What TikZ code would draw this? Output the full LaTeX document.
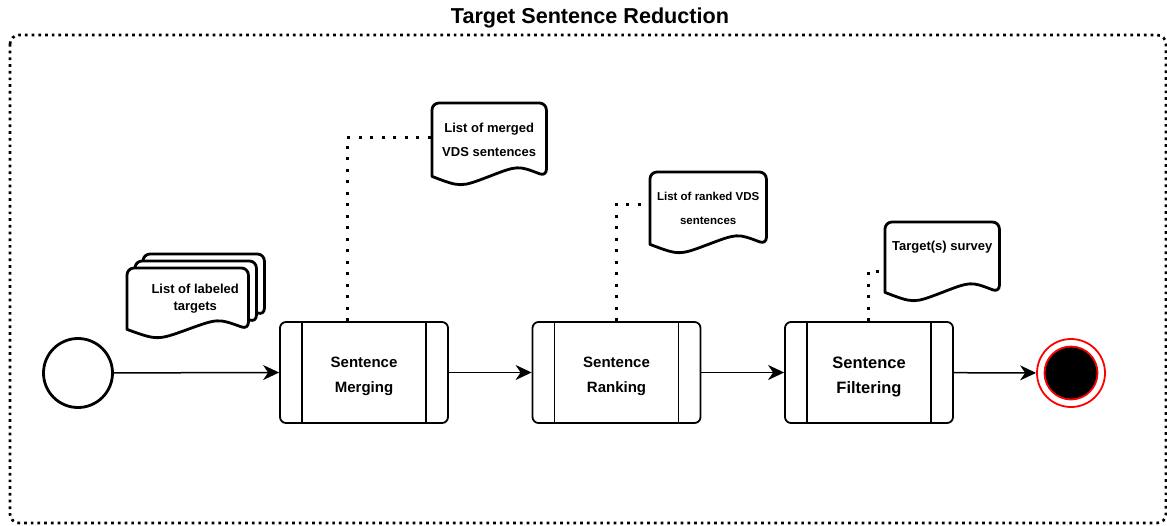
\documentclass[tikz,border=0pt]{standalone}
\usepackage{fontspec}
\setmainfont{Liberation Sans}
\usetikzlibrary{arrows.meta,calc}
\pgfdeclarelayer{bg}
\pgfsetlayers{bg,main}
\tikzset{
  docline/.style={line width=2.8pt, fill=white, line join=round},
  docbox/.style={rectangle, inner sep=0pt, anchor=north west, align=center},
  procbox/.style={rectangle, draw, line width=1.8pt, rounded corners=6pt, minimum width=168pt, minimum height=101pt, inner sep=0pt},
  proctext/.style={align=center, font=\fontsize{15}{25}\selectfont\bfseries, yshift=-4pt},
  innerline/.style={line width=1.6pt},
  flow/.style={line width=1.5pt, -{Stealth[length=16pt,width=15pt,inset=5pt]}},
  dotline/.style={line width=3pt, dash pattern=on 3pt off 8.5pt},
  frameline/.style={line width=2.7pt, dash pattern=on 2.7pt off 4pt, rounded corners=9pt},
}
\newcommand\docoutline[2]{%
  \draw[docline, rounded corners=7pt] (#1.south west) -- (#1.north west) -- (#1.north east) -- (#1.south east) [sharp corners]
    .. controls ($(#1.south east)!0.25!(#1.south west)+(0,-#2)$) .. (#1.south)
    .. controls ($(#1.south)!0.5!(#1.south west)+(0,#2)$) .. (#1.south west) -- cycle;%
}
\begin{document}
\begin{tikzpicture}[x=1pt,y=-1pt]
\useasboundingbox (0,0) rectangle (1167,525);
% frame and title
\draw[frameline] (10,35) rectangle (1166,523);
\node (title) at (590,18) {\fontsize{21.6}{26}\selectfont\bfseries Target Sentence Reduction};

% events
\node (start) [circle, draw, line width=2.8pt, minimum size=69pt, inner sep=0pt] at (78,373) {};
\node (endo) [circle, draw=red, line width=1.8pt, minimum size=68pt, inner sep=0pt] at (1071,373) {};
\node (endi) [circle, draw=red, fill=black, line width=1.8pt, minimum size=53pt, inner sep=0pt] at (1071,373) {};

% processes
\node (merge) [procbox, label={[proctext]center:Sentence\\Merging}] at (364,372.5) {};
\node (rank) [procbox, label={[proctext]center:Sentence\\Ranking}] at (616.5,372.5) {};
\node (filt) [procbox, label={[proctext, font=\fontsize{16.5}{25}\selectfont\bfseries]center:Sentence\\Filtering}] at (869,372.5) {};
\foreach \b in {merge,rank,filt}{
  \draw[innerline] ([xshift=23pt]\b.north west) -- ([xshift=23pt]\b.south west);
  \draw[innerline] ([xshift=-23pt]\b.north east) -- ([xshift=-23pt]\b.south east);
}

% documents
\node (lt3) [docbox, minimum width=121pt, minimum height=61pt] at (143,254) {};
\node (lt2) [docbox, minimum width=121pt, minimum height=61pt] at (135,261) {};
\node (lt1) [docbox, minimum width=121pt, minimum height=61pt,
  label={[xshift=7.5pt, yshift=0pt, align=center, font=\fontsize{13}{17}\selectfont\bfseries]center:List of labeled\\targets}] at (127,268) {};
\node (mdoc) [docbox, minimum width=114pt, minimum height=73pt, font=\fontsize{13}{24}\selectfont\bfseries] at (432,103) {List of merged\\VDS sentences};
\node (rdoc) [docbox, minimum width=116pt, minimum height=72pt, font=\fontsize{11.5}{24}\selectfont\bfseries] at (650,172) {List of ranked VDS\\sentences};
\node (sdoc) [docbox, minimum width=114pt, minimum height=70pt,
  label={[yshift=10pt, font=\fontsize{13}{17}\selectfont\bfseries]center:Target(s) survey}] at (885,222) {};

\begin{pgfonlayer}{bg}
  \docoutline{lt3}{11}
  \docoutline{lt2}{11}
  \docoutline{lt1}{11}
  \docoutline{mdoc}{11}
  \docoutline{rdoc}{11}
  \docoutline{sdoc}{11}
\end{pgfonlayer}

% flows
\draw[flow] (start) -- (merge.west);
\draw[flow] (merge) -- (rank.west);
\draw[flow] (rank) -- (filt.west);
\draw[flow] (filt) -- (endo);

% associations
\draw[dotline] ([xshift=-17pt]merge.north) |- ([yshift=2.5pt]mdoc.west);
\draw[dotline] (rank.north) |- ([yshift=4pt]rdoc.west);
\draw[dotline] ([xshift=-1pt]filt.north) |- ([yshift=-14pt]sdoc.west);
\end{tikzpicture}
\end{document}
